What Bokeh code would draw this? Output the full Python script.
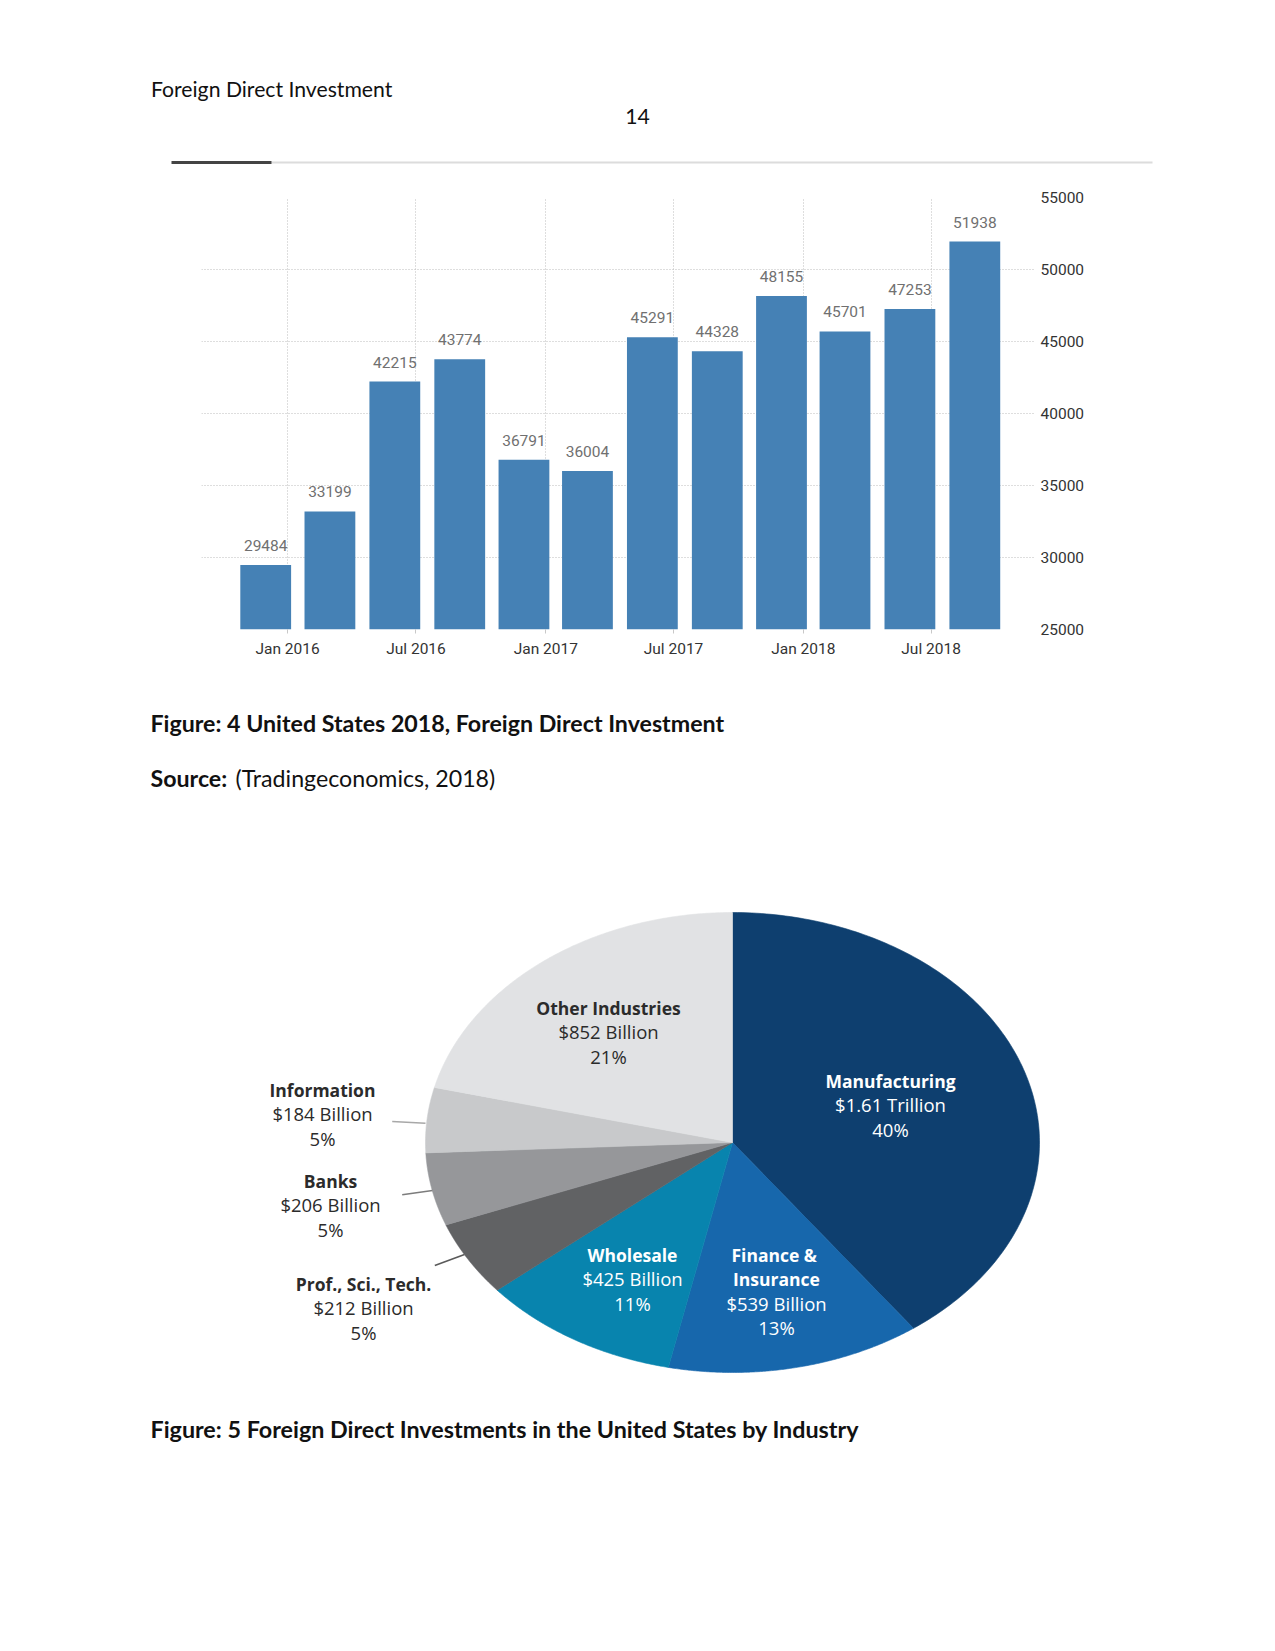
import numpy as np
import pandas as pd
from datetime import datetime
from bokeh.plotting import figure
from bokeh.layouts import column
from bokeh.models import ColumnDataSource, Range1d, FixedTicker, DatetimeTickFormatter
from bokeh.core.properties import value
from bokeh.embed import file_html
from bokeh.resources import INLINE

# ---------------- data : Figure 4 (United States FDI, quarterly) ----------------
quarters = ["2015-12-01", "2016-03-01", "2016-06-01", "2016-09-01",
            "2016-12-01", "2017-03-01", "2017-06-01", "2017-09-01",
            "2017-12-01", "2018-03-01", "2018-06-01", "2018-09-01"]
fdi_values = [29484, 33199, 42215, 43774, 36791, 36004,
              45291, 44328, 48155, 45701, 47253, 51938]
x_tick_dates = ["2016-01-01", "2016-07-01", "2017-01-01",
                "2017-07-01", "2018-01-01", "2018-07-01"]
y_ticks = [25000, 30000, 35000, 40000, 45000, 50000, 55000]

# ---------------- data : Figure 5 (FDI by industry) ----------------
industries = ["Manufacturing", "Finance  &|Insurance", "Wholesale",
              "Prof., Sci., Tech.", "Banks", "Information", "Other Industries"]
industry_values = [1610, 539, 425, 212, 206, 184, 852]          # $ billion
amount_labels = ["$1.61 Trillion", "$539 Billion", "$425 Billion",
                 "$212 Billion", "$206 Billion", "$184 Billion", "$852 Billion"]
pct_labels = ["40%", "13%", "11%", "5%", "5%", "5%", "21%"]

# ---------------- styles / layout ----------------
W = 1259
DOC = "Lato"
TE = "Roboto"
PIEF = "Open Sans"
slice_colors = ["#0E3F6F", "#1767AC", "#0884AE", "#616264", "#96979A", "#C8C9CB", "#E1E2E4"]
label_colors = ["#FFFFFF", "#FFFFFF", "#FFFFFF", "#2B2B2B", "#2B2B2B", "#2B2B2B", "#2B2B2B"]
label_pos = [(890, 1080), (776, 1254), (632, 1254), (363, 1283),
             (330, 1180), (322, 1089), (608, 1007)]
line_gap = 24.4


def blank(height, y0, y1):
    f = figure(width=W, height=height, x_range=Range1d(0, W), y_range=Range1d(y1, y0),
               output_backend="svg", toolbar_location=None, x_axis_type=None, y_axis_type=None,
               min_border=0, outline_line_color=None, background_fill_color="white",
               border_fill_color="white", frame_align=False)
    f.grid.visible = False
    return f


# ---------------- header ----------------
head = blank(170, 0, 170)
head.text(x=[150.5], y=[88.7], text=["Foreign Direct Investment"], text_font=value(DOC),
          text_font_size="21.2px", text_color="#111111", text_baseline="alphabetic",
          text_align="left")
head.text(x=[637], y=[116], text=["14"], text_font=value(DOC), text_font_size="21.2px",
          text_color="#111111", text_baseline="alphabetic", text_align="center")
head.segment(x0=[271], y0=[162], x1=[1152], y1=[162], line_color="#dcdcdc", line_width=2)
head.segment(x0=[171], y0=[162], x1=[271], y1=[162], line_color="#444444", line_width=3)

# ---------------- bar chart ----------------
dates = pd.to_datetime(quarters)
src = ColumnDataSource(dict(date=dates, fdi=fdi_values, label=[str(v) for v in fdi_values]))
bar = figure(width=W, height=510, x_axis_type="datetime", y_axis_location="right",
             x_range=Range1d(datetime(2015, 9, 1), datetime(2018, 11, 26)),
             y_range=Range1d(25000, 55000), output_backend="svg", toolbar_location=None,
             min_border_left=201, min_border_right=224, min_border_top=27,
             min_border_bottom=51, outline_line_color=None,
             background_fill_color="white", border_fill_color="white", frame_align=False)
bar.vbar(x="date", top="fdi", bottom=y_ticks[0], width=72 * 86400000, source=src,
         fill_color="#4581B5", line_color=None)
bar.text(x="date", y="fdi", text="label", source=src, text_align="center",
         text_baseline="bottom", y_offset=-14, text_font=value(TE),
         text_font_size="15.5px", text_color="#707070")

bar.xaxis.ticker = FixedTicker(ticks=[pd.Timestamp(d).value / 1e6 for d in x_tick_dates])
bar.xaxis.formatter = DatetimeTickFormatter(days="%b %Y", months="%b %Y", years="%b %Y")
bar.yaxis.ticker = FixedTicker(ticks=y_ticks)
for ax in (bar.xaxis, bar.yaxis):
    ax.axis_line_color = None
    ax.minor_tick_line_color = None
    ax.major_tick_in = 0
    ax.major_label_text_font = TE
    ax.major_label_text_font_size = "15.5px"
    ax.major_label_text_color = "#333333"
bar.xaxis.major_tick_out = 4
bar.xaxis.major_tick_line_color = "#c8c8c8"
bar.xaxis.major_label_standoff = 6
bar.yaxis.major_tick_out = 0
bar.yaxis.major_label_standoff = 5
bar.yaxis.major_label_text_align = "left"
for g in (bar.xgrid, bar.ygrid):
    g.grid_line_color = "#bdbdbd"
    g.grid_line_dash = "1 2"
    g.grid_line_width = 1

# ---------------- captions + pie ----------------
rest = blank(963, 680, 1643)
rest.text(x=[150], y=[722], text=["Figure: 4 United States 2018, Foreign Direct Investment"],
          text_font=value(DOC), text_font_style="bold", text_font_size="23.2px",
          text_color="#111111", text_baseline="alphabetic")
rest.text(x=[150], y=[777], text=["Source:"], text_font=value(DOC), text_font_style="bold",
          text_font_size="23.2px", text_color="#111111", text_baseline="alphabetic")
rest.text(x=[235], y=[777], text=["(Tradingeconomics, 2018)"], text_font=value(DOC),
          text_font_size="23.2px", text_color="#111111", text_baseline="alphabetic")
rest.text(x=[150], y=[1428],
          text=["Figure: 5 Foreign Direct Investments in the United States by Industry"],
          text_font=value(DOC), text_font_style="bold", text_font_size="23.3px",
          text_color="#111111", text_baseline="alphabetic")

# elliptical pie (start at 12 o'clock, clockwise)
cx, cy, rx, ry = 732.0, 1142.0, 307.0, 230.0
frac = np.array(industry_values, dtype=float) / sum(industry_values)
ends = np.cumsum(frac)
starts = ends - frac
xs, ys = [], []
for s, e in zip(starts, ends):
    t = np.linspace(np.pi / 2 - 2 * np.pi * s, np.pi / 2 - 2 * np.pi * e, 160)
    xs.append(np.concatenate([[cx], cx + rx * np.cos(t)]))
    ys.append(np.concatenate([[cy], cy - ry * np.sin(t)]))
rest.patches(xs=xs, ys=ys, fill_color=slice_colors, line_color=slice_colors, line_width=0.6)

# leader lines for the small grey slices
rest.segment(x0=[391.7, 401.7, 434.3], y0=[1121, 1194.3, 1265],
             x1=[425, 432, 464], y1=[1122.7, 1190, 1254],
             line_color=["#a8a8a8", "#7c7c7c", "#5a5a5a"], line_width=1.6)

# slice labels
lx, ly, lt, lb, lc, ls = [], [], [], [], [], []
for name, amt, pct, (px, py), col in zip(industries, amount_labels, pct_labels,
                                         label_pos, label_colors):
    lines = [(n, "bold") for n in name.split("|")] + [(amt, "normal"), (pct, "normal")]
    for i, (txt, style) in enumerate(lines):
        lx.append(px)
        ly.append(py + i * line_gap)
        lt.append(txt)
        lb.append(style)
        lc.append(col)
        ls.append("17.5px" if style == "bold" else "18.5px")
lsrc = ColumnDataSource(dict(x=lx, y=ly, text=lt, style=lb, color=lc, size=ls))
rest.text(x="x", y="y", text="text", source=lsrc, text_font=value(PIEF),
          text_font_style="style", text_font_size="size", text_color="color",
          text_align="center", text_baseline="middle")

page = column(head, bar, rest, spacing=0)
open("out.html", "w").write(file_html(page, INLINE))
